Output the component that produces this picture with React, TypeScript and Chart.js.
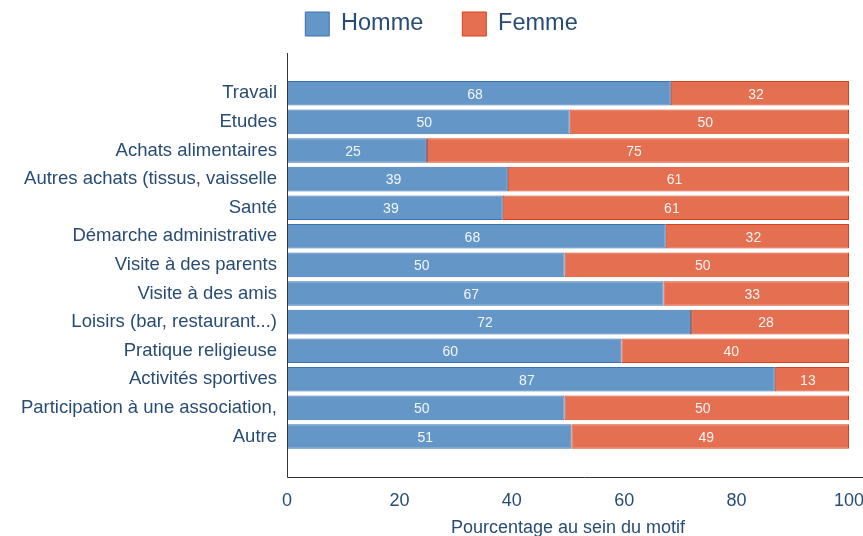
import React, { useEffect, useRef } from 'react';
import { Chart, registerables } from 'chart.js';

Chart.register(...registerables);

const categories = [
  'Travail',
  'Etudes',
  'Achats alimentaires',
  'Autres achats (tissus, vaisselle',
  'Santé',
  'Démarche administrative',
  'Visite à des parents',
  'Visite à des amis',
  'Loisirs (bar, restaurant...)',
  'Pratique religieuse',
  'Activités sportives',
  'Participation à une association,',
  'Autre',
];

const seriesNames = ['Homme', 'Femme'];

const hommeValues = [68.3, 50.3, 24.9, 39.3, 38.4, 67.4, 49.4, 67.0, 71.9, 59.5, 86.8, 49.4, 50.6];
const femmeValues = [31.7, 49.7, 75.1, 60.7, 61.6, 32.6, 50.6, 33.0, 28.1, 40.5, 13.2, 50.6, 49.4];

const hommeLabels = [68, 50, 25, 39, 39, 68, 50, 67, 72, 60, 87, 50, 51];
const femmeLabels = [32, 50, 75, 61, 61, 32, 50, 33, 28, 40, 13, 50, 49];

const xMin = 0;
const xMax = 100;
const xStep = 20;

const axisTitle = 'Pourcentage au sein du motif';

const FONT = '"Liberation Sans", Arial, Helvetica, sans-serif';
const TEXT = '#284c74';
const BLUE = '#6596c8';
const BLUE_BORDER = '#3a72b4';
const RED = '#e46f51';
const RED_BORDER = '#d9401c';

const framePlugin = {
  id: 'frame',
  afterLayout(chart: any) {
    // centre the legend over the full (wider, partly cropped) figure
    if (chart.legend) {
      chart.legend.left += 17;
      chart.legend.right += 17;
    }
  },
  afterDraw(chart: any) {
    const { ctx, chartArea: a, width } = chart;
    ctx.save();
    ctx.strokeStyle = '#333333';
    ctx.lineWidth = 1;
    const x = Math.round(a.left) + 0.5;
    const yb = Math.round(a.bottom + 26) + 0.5;
    ctx.beginPath();
    ctx.moveTo(x, Math.round(a.top - 26));
    ctx.lineTo(x, yb);
    ctx.lineTo(width, yb);
    ctx.stroke();
    ctx.restore();
  },
};

const valueLabelPlugin = {
  id: 'valueLabels',
  afterDatasetsDraw(chart: any) {
    const { ctx } = chart;
    const all = [hommeLabels, femmeLabels];
    ctx.save();
    ctx.font = `14px ${FONT}`;
    ctx.fillStyle = 'rgba(255,255,255,0.92)';
    ctx.textAlign = 'center';
    ctx.textBaseline = 'middle';
    chart.data.datasets.forEach((_ds: any, di: number) => {
      const meta = chart.getDatasetMeta(di);
      meta.data.forEach((bar: any, i: number) => {
        const { x, base, y } = bar.getProps(['x', 'base', 'y'], true);
        ctx.fillText(String(all[di][i]), (x + base) / 2 - 4, y + 1.5);
      });
    });
    ctx.restore();
  },
};

export default function App() {
  const ref = useRef<HTMLCanvasElement | null>(null);

  useEffect(() => {
    document.body.style.overflow = 'hidden';
    const canvas = ref.current;
    if (!canvas) return;
    const chart = new Chart(canvas, {
      type: 'bar',
      data: {
        labels: categories,
        datasets: [
          {
            label: seriesNames[0],
            data: hommeValues,
            backgroundColor: BLUE,
            borderColor: BLUE_BORDER,
            borderWidth: 1,
            borderSkipped: false,
          },
          {
            label: seriesNames[1],
            data: femmeValues,
            backgroundColor: RED,
            borderColor: RED_BORDER,
            borderWidth: 1,
            borderSkipped: false,
          },
        ],
      },
      options: {
        indexAxis: 'y',
        responsive: false,
        animation: false,
        datasets: {
          bar: {
            categoryPercentage: 1,
            barPercentage: 0.86,
          },
        },
        layout: {
          padding: { top: -27, right: 33, bottom: 0, left: 0 },
        },
        scales: {
          x: {
            stacked: true,
            min: xMin,
            max: xMax,
            grid: { display: false, drawTicks: true, tickLength: 39 },
            border: { display: false },
            ticks: {
              stepSize: xStep,
              padding: 0,
              color: TEXT,
              font: { family: FONT, size: 18 },
            },
            title: {
              display: true,
              text: axisTitle,
              color: TEXT,
              font: { family: FONT, size: 18 },
              padding: { top: 6, bottom: 4 },
            },
          },
          y: {
            stacked: true,
            grid: { display: false, drawTicks: false },
            border: { display: false },
            ticks: {
              autoSkip: false,
              padding: 10,
              color: TEXT,
              font: { family: FONT, size: 18.5 },
            },
            afterFit: (scale: any) => {
              scale.width = 287;
            },
          },
        },
        plugins: {
          legend: {
            position: 'top',
            labels: {
              boxWidth: 24,
              boxHeight: 24,
              padding: 39,
              color: TEXT,
              font: { family: FONT, size: 23.5 },
            },
          },
          subtitle: {
            display: true,
            text: '',
            position: 'top',
            weight: 500,
            font: { size: 10, lineHeight: 1 },
            padding: { top: 12, bottom: 11 },
          },
          tooltip: { enabled: false },
        },
      } as any,
      plugins: [framePlugin, valueLabelPlugin],
    });
    return () => chart.destroy();
  }, []);

  return (
    <div style={{ position: 'fixed', left: 0, top: 0, width: 882, height: 543 }}>
      <canvas ref={ref} width={882} height={543} style={{ display: 'block' }} />
    </div>
  );
}
